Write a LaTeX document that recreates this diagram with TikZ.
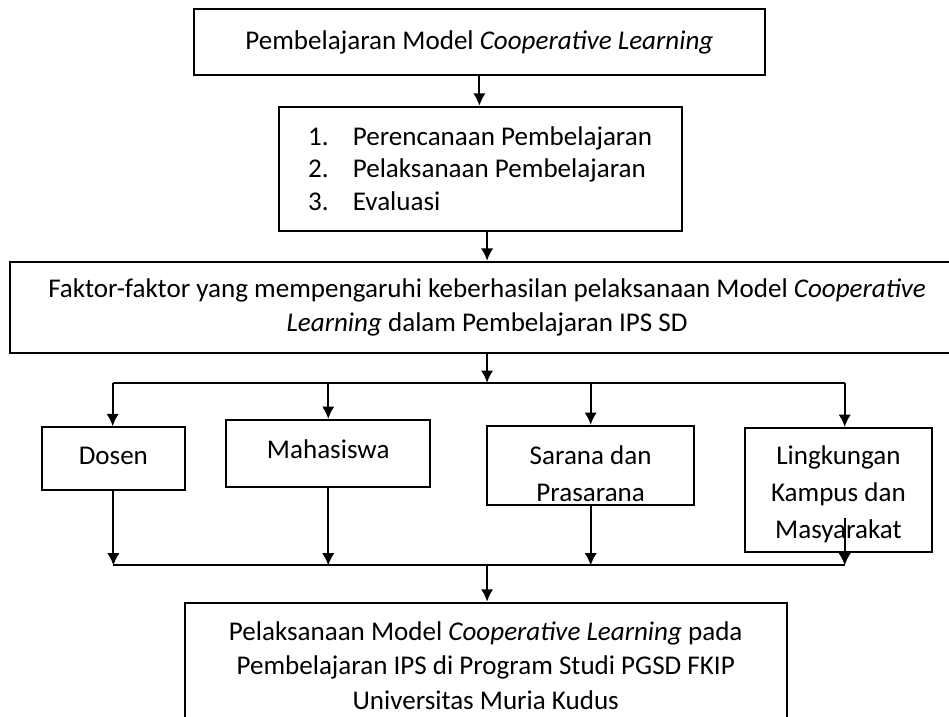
\documentclass[tikz,border=0pt]{standalone}
\usepackage{fontspec}
\setmainfont{Carlito}
\usetikzlibrary{arrows.meta}

\begin{document}
\begin{tikzpicture}[line width=0.8pt, font=\fontsize{11}{14}\selectfont, >={Latex[length=5pt,width=5pt]}]
    \tikzstyle{every node} = [rectangle,draw,inner sep=0pt,align=center]
    \clip (0,0) rectangle (13.56,10.24);

    \node (a) at (6.85, 9.64) [minimum width=8.16cm, minimum height=0.93cm] {Pembelajaran Model \textit{Cooperative Learning}};
    \node (b) at (6.86, 7.83) [minimum width=5.76cm, minimum height=1.77cm, align=left, font=\fontsize{11}{13.2}\selectfont]
        {\makebox[1.65em][l]{1.}Perencanaan Pembelajaran \\ \makebox[1.65em][l]{2.}Pelaksanaan Pembelajaran \\ \makebox[1.65em][l]{3.}Evaluasi};

    \node (c) at (6.96, 5.85) [minimum width=13.63cm, minimum height=1.3cm]
        {Faktor-faktor yang mempengaruhi keberhasilan pelaksanaan Model \textit{Cooperative} \\ \textit{Learning} dalam Pembelajaran IPS SD};

    \node (d) at (1.62, 3.69) [minimum width=2.04cm, minimum height=0.89cm] {Dosen\rule[-2.4pt]{0pt}{0pt}};
    \node (e) at (4.69, 3.76) [minimum width=2.91cm, minimum height=0.96cm] {Mahasiswa\rule[-3.2pt]{0pt}{0pt}};
    \node (f) at (8.44, 3.59) [minimum width=2.96cm, minimum height=1.13cm, font=\fontsize{11}{15.2}\selectfont] {\rule{0pt}{14.5pt}Sarana dan \\ Prasarana};
    \node (g) at (11.98, 3.24) [minimum width=2.67cm, minimum height=1.77cm, font=\fontsize{11}{15}\selectfont] {\rule{0pt}{11pt}Lingkungan \\ Kampus dan \\ Masyarakat};

    \node (h) at (6.94, 0.73) [minimum width=8.6cm, minimum height=1.8cm]
        {Pelaksanaan Model \textit{Cooperative Learning} pada \\ Pembelajaran IPS di Program Studi PGSD FKIP \\ Universitas Muria Kudus};

    \coordinate (p) at (6.96, 4.77);
    \coordinate (p1) at (1.61, 4.77);
    \coordinate (p4) at (12.07, 4.77);
    \coordinate (q) at (6.96, 2.16);
    \coordinate (q1) at (1.61, 2.16);
    \coordinate (q4) at (12.07, 2.16);
    \coordinate (r) at (12.07, 2.84);

    \draw [->] (a.south) -- (a.south |- b.north);
    \draw [->] (c.north |- b.south) -- (c.north);
    \draw [->] (c.south) -- (p);

    \draw [-] (p1) -- (p4);
    \draw [->] (p1) -- (p1 |- d.north);
    \draw [->] (e.north |- p) -- (e.north);
    \draw [->] (f.north |- p) -- (f.north);
    \draw [->] (p4) -- (p4 |- g.north);

    \draw [->] (d.south) -- (d.south |- q);
    \draw [->] (e.south) -- (e.south |- q);
    \draw [->] (f.south) -- (f.south |- q);
    \draw [->] (r) -- (q4);
    \draw [-] (q1) -- (q4);

    \draw [->] (q) -- (q |- h.north);
\end{tikzpicture}
\end{document}
